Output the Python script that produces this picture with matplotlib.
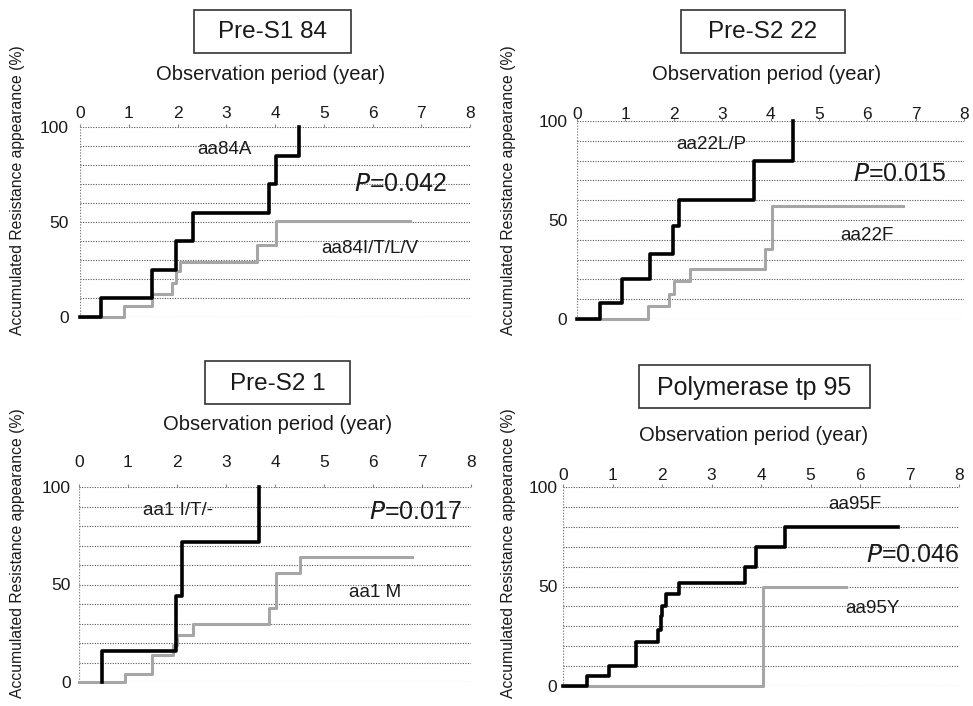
import numpy as np
import matplotlib
matplotlib.use("Agg")
import matplotlib.pyplot as plt
from matplotlib.patches import Rectangle

plt.rcParams['font.family'] = ['Liberation Sans', 'DejaVu Sans']

# données (années, % cumulé)
t84A = [0, 0.44, 1.48, 1.96, 2.31, 3.88, 4.02, 4.49]
p84A = [0, 10, 25, 40, 55, 70, 85, 100]
t84I = [0, 0.90, 1.48, 1.89, 1.96, 2.05, 3.64, 4.03, 6.76]
p84I = [0, 6, 12, 18, 24, 29, 38, 50.5, 50.5]

t22L = [0, 0.47, 0.93, 1.50, 1.98, 2.10, 3.66, 4.47]
p22L = [0, 8, 20, 33, 47, 60, 80, 100]
t22F = [0, 1.46, 1.91, 2.00, 2.33, 3.89, 4.04, 6.74]
p22F = [0, 6.5, 12.5, 19, 25, 35.5, 57, 57]

t1I = [0.46, 0.46, 1.97, 2.10, 3.67]
p1I = [0, 16, 44, 72, 100]
t1M = [0, 0.94, 1.48, 1.91, 1.99, 2.32, 3.88, 4.03, 4.50, 6.80]
p1M = [0, 4, 14, 19, 24, 29.5, 38, 56, 64, 64]

t95F = [0, 0.48, 0.93, 1.48, 1.92, 1.97, 2.00, 2.09, 2.34, 3.67, 3.89, 4.48, 6.77]
p95F = [0, 5, 10, 22, 28, 35, 40, 46, 52, 60, 70, 80, 80]
t95Y = [0, 4.04, 5.71]
p95Y = [0, 50, 50]

titles = ["Pre-S1 84", "Pre-S2 22", "Pre-S2 1", "Polymerase tp 95"]
pvalues = ["0.042", "0.015", "0.017", "0.046"]

W, H = 973, 706
fig = plt.figure(figsize=(W / 100, H / 100), dpi=100)


def px_axes(left, top, right, bottom):
    return fig.add_axes([left / W, 1 - bottom / H, (right - left) / W, (bottom - top) / H])


def fig_text(x, y, s, **kw):
    return fig.text(x / W, 1 - y / H, s, **kw)


def title_box(x0, y0, x1, y1, s, size):
    fig.add_artist(Rectangle((x0 / W, 1 - y1 / H), (x1 - x0) / W, (y1 - y0) / H,
                             transform=fig.transFigure, fill=False, ec='#333333', lw=1.2))
    fig_text((x0 + x1) / 2, (y0 + y1) / 2 + 1, s, ha='center', va='center',
             fontsize=size, color='#1a1a1a')


def draw_panel(ax, tb, pb, tg, pg, lab_b, lab_g, ptxt, pos_b, pos_g, pos_p, xpad, ypad):
    ax.set_xlim(0, 8)
    ax.set_ylim(0, 100)
    for s in ax.spines.values():
        s.set_visible(False)
    ax.set_yticks([0, 50, 100])
    ax.set_yticks(np.arange(0, 101, 10), minor=True)
    ax.grid(which='both', axis='y', linestyle=(0, (1, 1.3)), color='#555555', lw=0.8)
    ax.axvline(0, linestyle=(0, (1, 1.3)), color='#777777', lw=0.9)
    ax.xaxis.tick_top()
    ax.set_xticks(range(9))
    ax.tick_params(axis='x', length=2, color='#888888', pad=xpad, labelsize=12.5, labelcolor='#1a1a1a')
    ax.tick_params(axis='y', which='both', length=0, pad=ypad, labelsize=12.5, labelcolor='#1a1a1a')
    ax.step(tg, pg, where='post', color='#a6a6a6', lw=2.2, clip_on=False, zorder=3)
    ax.step(tb, pb, where='post', color='black', lw=2.6, clip_on=False, zorder=4)
    ax.text(pos_b[0], pos_b[1], lab_b, ha='center', va='center', fontsize=13.5, color='#1a1a1a')
    ax.text(pos_g[0], pos_g[1], lab_g, ha='center', va='center', fontsize=13.5, color='#1a1a1a')
    ax.text(pos_p[0], pos_p[1], r'$\it{P}$=' + ptxt, ha='center', va='center', fontsize=18,
            color='#1a1a1a')


ylab = "Accumulated Resistance appearance (%)"
xlab = "Observation period (year)"

# haut gauche
ax1 = px_axes(80, 127, 470, 317)
draw_panel(ax1, t84A, p84A, t84I, p84I, "aa84A", "aa84I/T/L/V", pvalues[0],
           (2.97, 88), (5.95, 36), (6.57, 70), 2, 8)
title_box(194, 10, 351, 53, titles[0], 17.5)
fig_text(271, 74, xlab, ha='center', va='center', fontsize=14.5, color='#1a1a1a')
fig_text(18, 190, ylab, ha='center', va='center', rotation=90, fontsize=11.3, color='#1a1a1a')

# haut droite
ax2 = px_axes(577, 121, 964, 319)
draw_panel(ax2, t22L, p22L, t22F, p22F, "aa22L/P", "aa22F", pvalues[1],
           (2.78, 88), (5.99, 42), (6.67, 73), -2.5, 7)
title_box(681, 10, 845, 53, titles[1], 17.5)
fig_text(767, 74, xlab, ha='center', va='center', fontsize=14.5, color='#1a1a1a')
fig_text(508, 190, ylab, ha='center', va='center', rotation=90, fontsize=11.3, color='#1a1a1a')

# bas gauche
ax3 = px_axes(79, 487, 471, 682)
draw_panel(ax3, t1I, p1I, t1M, p1M, "aa1 I/T/-", "aa1 M", pvalues[2],
           (2.03, 88), (6.04, 46), (6.86, 87), 10.5, 6)
title_box(205, 361, 350, 404, titles[2], 17.5)
fig_text(278, 425, xlab, ha='center', va='center', fontsize=14.5, color='#1a1a1a')
fig_text(18, 553, ylab, ha='center', va='center', rotation=90, fontsize=11.3, color='#1a1a1a')

# bas droite
ax4 = px_axes(563, 487, 959, 686)
draw_panel(ax4, t95F, p95F, t95Y, p95Y, "aa95F", "aa95Y", pvalues[3],
           (5.89, 91), (6.26, 39), (7.07, 66), 1, 4)
title_box(639, 365, 870, 408, titles[3], 18)
fig_text(754, 435, xlab, ha='center', va='center', fontsize=14.5, color='#1a1a1a')
fig_text(508, 553, ylab, ha='center', va='center', rotation=90, fontsize=11.3, color='#1a1a1a')

fig.savefig("out.png", dpi=100, facecolor='white')
